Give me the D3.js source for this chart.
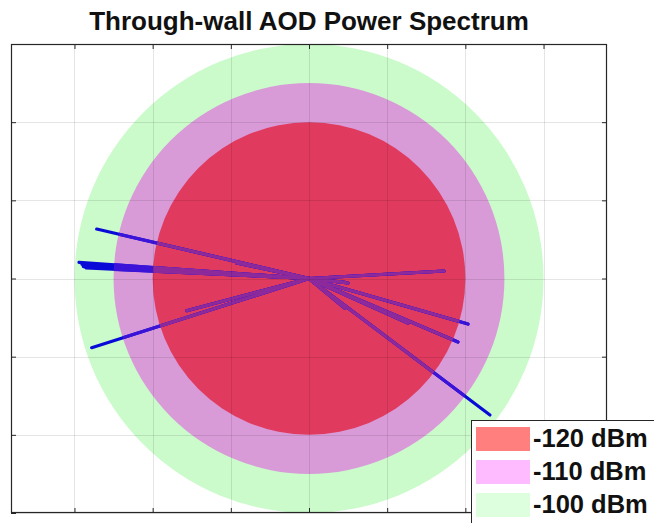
<!DOCTYPE html>
<html><head><meta charset="utf-8">
<script src="https://cdn.jsdelivr.net/npm/d3@7"></script>
<style>body{margin:0;background:#fff;overflow:hidden}</style>
</head><body>
<svg id="c" width="654" height="523"></svg>
<script>
// ---- data ----
const chartTitle = "Through-wall AOD Power Spectrum";
const powerLabels = ["-120 dBm", "-110 dBm", "-100 dBm"];
const powerRadii = [20, 25, 30];
const ringFill = ["#e03a5e", "#d89bd8", "#cbfbcb"];
const legendFill = ["#ff7f7f", "#ffbbff", "#ddffdd"];
const rayEndX = [-27.16, -29.42, -29.04, -28.87, -28.53, -27.80, -15.65, -9.25, 17.27, 20.34, 19.06, 23.15, 4.99, 4.6, 12.66, 4.6];
const rayEndY = [6.33, 2.07, 1.79, 1.51, 1.34, -8.85, -4.12, 1.98, 0.96, -5.82, -8.12, -17.46, -0.58, -3.8, -5.69, -0.5];
const tickValues = [-30, -20, -10, 0, 10, 20, 30];
const xLimit = [-38.12, 38.12];
const yLimit = [-30, 30];

// ---- layout ----
const L = 11, R = 607, T = 44, B = 513;
const svg = d3.select("#c");
const x = d3.scaleLinear().domain(xLimit).range([L, R]);
const y = d3.scaleLinear().domain(yLimit).range([B, T]);
const rpx = r => x(r) - x(0);

svg.append("rect").attr("x", 0).attr("y", 0).attr("width", 654).attr("height", 523).attr("fill", "#fff");

const defs = svg.append("defs");
defs.append("clipPath").attr("id", "plotclip").append("rect")
  .attr("x", L).attr("y", T).attr("width", R - L).attr("height", B - T);
powerRadii.forEach((r, i) => {
  defs.append("clipPath").attr("id", "cc" + i).append("circle")
    .attr("cx", x(0)).attr("cy", y(0)).attr("r", rpx(r));
});

const plot = svg.append("g").attr("clip-path", "url(#plotclip)");

// circles, largest first
const order = [2, 1, 0];
plot.selectAll("circle.ring").data(order).join("circle")
  .attr("class", "ring")
  .attr("cx", x(0)).attr("cy", y(0))
  .attr("r", i => rpx(powerRadii[i]))
  .attr("fill", i => ringFill[i]);

// rays
const rays = rayEndX.map((v, i) => ({x: v, y: rayEndY[i]}));
const rayColors = [["#0a0ad8", null], ["#3c14d8", "url(#cc1)"], ["#8c2a9c", "url(#cc0)"]];
rayColors.forEach(([col, clip]) => {
  const g = plot.append("g");
  if (clip) g.attr("clip-path", clip);
  g.selectAll("line").data(rays).join("line")
    .attr("x1", x(0)).attr("y1", y(0))
    .attr("x2", d => x(d.x)).attr("y2", d => y(d.y))
    .attr("stroke", col).attr("stroke-width", 3.2).attr("stroke-linecap", "round");
});

// grid
const grid = svg.append("g").attr("stroke", "#000").attr("stroke-opacity", 0.1).attr("stroke-width", 1);
grid.selectAll("line.v").data(tickValues).join("line").attr("class", "v")
  .attr("x1", d => Math.round(x(d)) + 0.5).attr("x2", d => Math.round(x(d)) + 0.5)
  .attr("y1", T).attr("y2", B);
grid.selectAll("line.h").data(tickValues).join("line").attr("class", "h")
  .attr("y1", d => Math.round(y(d)) + 0.5).attr("y2", d => Math.round(y(d)) + 0.5)
  .attr("x1", L).attr("x2", R);

// axes ticks (inward, no labels)
function styleAxis(g) {
  g.select(".domain").remove();
  g.selectAll(".tick text").remove();
  g.selectAll(".tick line").attr("stroke", "#262626");
}
svg.append("g").attr("transform", `translate(0,${B})`)
  .call(d3.axisBottom(x).tickValues(tickValues).tickSize(-5).tickFormat("")).call(styleAxis);
svg.append("g").attr("transform", `translate(0,${T})`)
  .call(d3.axisTop(x).tickValues(tickValues).tickSize(-5).tickFormat("")).call(styleAxis);
svg.append("g").attr("transform", `translate(${L},0)`)
  .call(d3.axisLeft(y).tickValues(tickValues).tickSize(-5).tickFormat("")).call(styleAxis);
svg.append("g").attr("transform", `translate(${R},0)`)
  .call(d3.axisRight(y).tickValues(tickValues).tickSize(-5).tickFormat("")).call(styleAxis);

// border
svg.append("rect").attr("x", L + 0.5).attr("y", T + 0.5).attr("width", R - L - 1).attr("height", B - T - 1)
  .attr("fill", "none").attr("stroke", "#262626").attr("stroke-width", 1.2);

// title
svg.append("text").attr("x", 309).attr("y", 29.5).attr("text-anchor", "middle")
  .attr("font-family", "Liberation Sans, Arial, sans-serif").attr("font-weight", "bold")
  .attr("font-size", 26).attr("fill", "#111").text(chartTitle);

// legend
const lg = svg.append("g");
lg.append("rect").attr("x", 471.5).attr("y", 420.5).attr("width", 220).attr("height", 140)
  .attr("fill", "#fff").attr("stroke", "#262626").attr("stroke-width", 1);
const items = lg.selectAll("g.item").data(powerLabels).join("g").attr("class", "item")
  .attr("transform", (d, i) => `translate(0,${i * 33})`);
items.append("rect").attr("x", 476).attr("y", 427).attr("width", 54).attr("height", 24)
  .attr("fill", (d, i) => legendFill[i]);
items.append("text").attr("x", 533).attr("y", 447)
  .attr("font-family", "Liberation Sans, Arial, sans-serif").attr("font-weight", "bold")
  .attr("font-size", 25.5).attr("fill", "#111").text(d => d);
</script>
</body></html>
